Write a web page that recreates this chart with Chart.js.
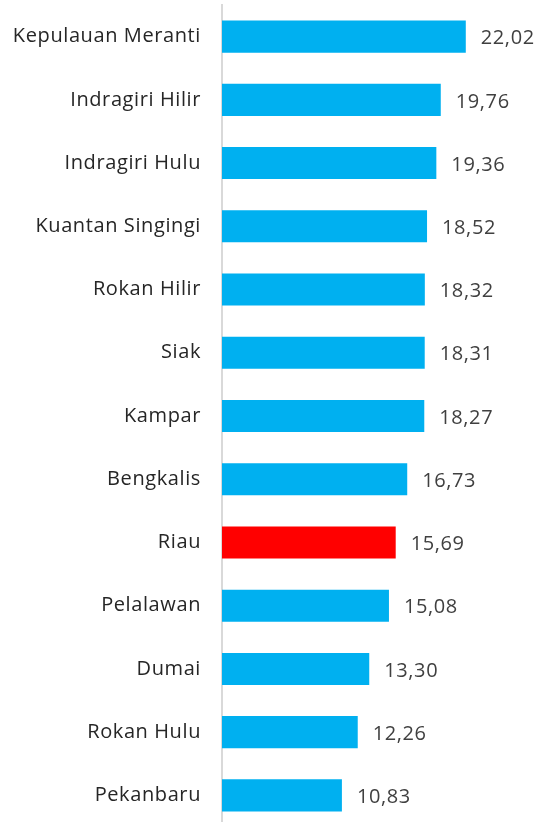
<!DOCTYPE html>
<html>
<head>
<meta charset="utf-8">
<script src="https://cdn.jsdelivr.net/npm/chart.js@4"></script>
<style>
html,body{margin:0;padding:0;background:#fff;overflow:hidden;}
canvas{display:block;}
</style>
</head>
<body>
<canvas id="c" width="543" height="827" style="width:543px;height:827px;"></canvas>
<script>
const categories = ["Kepulauan Meranti","Indragiri Hilir","Indragiri Hulu","Kuantan Singingi","Rokan Hilir","Siak","Kampar","Bengkalis","Riau","Pelalawan","Dumai","Rokan Hulu","Pekanbaru"];
const values = [22.02,19.76,19.36,18.52,18.32,18.31,18.27,16.73,15.69,15.08,13.30,12.26,10.83];
const highlight = "Riau";

const FONT = "'Open Sans', sans-serif";
const colors = categories.map(c => c === highlight ? "#FF0000" : "#00B0F0");

const spacing = {
  id: "spacing",
  beforeDraw(chart) { chart.ctx.letterSpacing = "0.6px"; }
};

const valueLabels = {
  id: "valueLabels",
  afterDatasetsDraw(chart) {
    const ctx = chart.ctx;
    const meta = chart.getDatasetMeta(0);
    ctx.save();
    ctx.letterSpacing = "0.6px";
    ctx.font = "20px " + FONT;
    ctx.fillStyle = "#404040";
    ctx.textAlign = "left";
    ctx.textBaseline = "middle";
    meta.data.forEach((bar, i) => {
      const txt = values[i].toFixed(2).replace(".", ",");
      ctx.fillText(txt, bar.x + 15, bar.y + 2);
    });
    ctx.restore();
  }
};

new Chart(document.getElementById("c"), {
  type: "bar",
  data: {
    labels: categories,
    datasets: [{
      data: values,
      backgroundColor: colors,
      borderWidth: 0,
      barPercentage: 0.507,
      categoryPercentage: 1.0
    }]
  },
  options: {
    indexAxis: "y",
    responsive: false,
    maintainAspectRatio: false,
    animation: false,
    devicePixelRatio: 1,
    layout: { autoPadding: false, padding: { top: 5, right: 11, bottom: 0, left: 0 } },
    plugins: { legend: { display: false }, tooltip: { enabled: false } },
    scales: {
      x: { display: false, min: 0, max: 28 },
      y: {
        grid: { display: false, drawTicks: false },
        border: { display: true, color: "#D9D9D9", width: 2 },
        ticks: { color: "#262626", font: { family: FONT, size: 20 }, padding: 21 },
        afterFit(scale) { scale.width = 222; scale.paddingTop = 0; scale.paddingBottom = 0; }
      }
    }
  },
  plugins: [spacing, valueLabels]
});
</script>
</body>
</html>
